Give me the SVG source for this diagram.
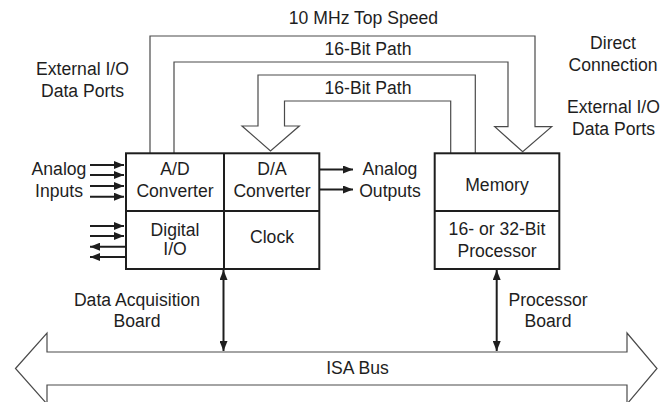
<svg xmlns="http://www.w3.org/2000/svg" width="668" height="402" viewBox="0 0 668 402">
  <style>
    text { font-family: "Liberation Sans", Arial, sans-serif; font-size: 17.6px; fill: #1e1e1e; text-anchor: middle; }
    .box { fill: #fff; stroke: #1e1e1e; stroke-width: 2; }
    .div { fill: none; stroke: #1e1e1e; stroke-width: 2; }
    .band { fill: none; stroke: #4a4a4a; stroke-width: 1.2; }
    .sig { fill: none; stroke: #1e1e1e; stroke-width: 2; }
    .bus { fill: #fff; stroke: #4a4a4a; stroke-width: 1.2; }
  </style>
  <defs>
    <marker id="head" viewBox="0 0 10 8" refX="10" refY="4" markerWidth="10" markerHeight="8" markerUnits="userSpaceOnUse" orient="auto-start-reverse">
      <path d="M0,0 L10,4 L0,8 Z" fill="#1e1e1e"/>
    </marker>
  </defs>

  <!-- data paths between the boards -->
  <g id="connectors">
    <!-- wide path: A/D and digital I/O to memory -->
    <path class="band" d="M150,153 V36 H535 V126.7 H551.7 L522.7,151.7 L494.7,126.7 H508 V62 H174 V153"/>
    <!-- memory to D/A path -->
    <path class="band" d="M475.3,153 V75 H258 V126 H242 L270.5,151 L299.3,126 H284.5 V101 H450.7 V153"/>
    <!-- analog inputs -->
    <line class="sig" x1="90" y1="165" x2="124" y2="165" marker-end="url(#head)"/>
    <line class="sig" x1="90" y1="175" x2="124" y2="175" marker-end="url(#head)"/>
    <line class="sig" x1="90" y1="186" x2="124" y2="186" marker-end="url(#head)"/>
    <line class="sig" x1="90" y1="196.7" x2="124" y2="196.7" marker-end="url(#head)"/>
    <!-- digital I/O lines -->
    <line class="sig" x1="90" y1="226" x2="124" y2="226" marker-end="url(#head)"/>
    <line class="sig" x1="90" y1="236" x2="124" y2="236" marker-end="url(#head)"/>
    <line class="sig" x1="126" y1="246.7" x2="90" y2="246.7" marker-end="url(#head)"/>
    <line class="sig" x1="126" y1="257" x2="90" y2="257" marker-end="url(#head)"/>
    <!-- analog outputs -->
    <line class="sig" x1="319" y1="169.5" x2="353" y2="169.5" marker-end="url(#head)"/>
    <line class="sig" x1="319" y1="189.5" x2="353" y2="189.5" marker-end="url(#head)"/>
    <!-- board-to-bus links -->
    <line class="sig" x1="223.5" y1="270" x2="223.5" y2="351" marker-start="url(#head)" marker-end="url(#head)"/>
    <line class="sig" x1="496.7" y1="270" x2="496.7" y2="351" marker-start="url(#head)" marker-end="url(#head)"/>
  </g>

  <!-- data acquisition board -->
  <g id="daq-board">
    <rect class="box" x="126" y="153.3" width="193.3" height="115.7"/>
    <line class="div" x1="126" y1="211" x2="319.3" y2="211"/>
    <line class="div" x1="224" y1="153.3" x2="224" y2="269"/>
    <text x="175" y="175">A/D</text>
    <text x="175" y="196.7">Converter</text>
    <text x="272" y="175">D/A</text>
    <text x="272" y="196.7">Converter</text>
    <text x="175" y="235.7">Digital</text>
    <text x="175" y="255">I/O</text>
    <text x="272" y="243.3">Clock</text>
  </g>

  <!-- processor board -->
  <g id="processor-board">
    <rect class="box" x="434.7" y="153.3" width="124.6" height="115.7"/>
    <line class="div" x1="434.7" y1="211" x2="559.3" y2="211"/>
    <text x="497" y="191">Memory</text>
    <text x="497" y="235">16- or 32-Bit</text>
    <text x="497" y="256.7">Processor</text>
  </g>

  <!-- ISA bus -->
  <g id="isa-bus">
    <path class="bus" d="M15.5,368.5 L47,333 V352 H627 V333 L657,368.5 L627,404 V385 H47 V404 Z"/>
    <text x="357.5" y="373.5">ISA Bus</text>
  </g>

  <!-- labels -->
  <g id="labels">
    <text x="363.5" y="24">10 MHz Top Speed</text>
    <text x="368" y="55">16-Bit Path</text>
    <text x="368" y="94">16-Bit Path</text>
    <text x="82.5" y="75">External I/O</text>
    <text x="82.5" y="96.7">Data Ports</text>
    <text x="613" y="49">Direct</text>
    <text x="613" y="70.5">Connection</text>
    <text x="613.5" y="113">External I/O</text>
    <text x="613.5" y="135">Data Ports</text>
    <text x="59" y="175">Analog</text>
    <text x="59" y="196.7">Inputs</text>
    <text x="390" y="175">Analog</text>
    <text x="390" y="196.7">Outputs</text>
    <text x="137" y="306">Data Acquisition</text>
    <text x="137" y="327.3">Board</text>
    <text x="548" y="306">Processor</text>
    <text x="548" y="327.3">Board</text>
  </g>
</svg>
